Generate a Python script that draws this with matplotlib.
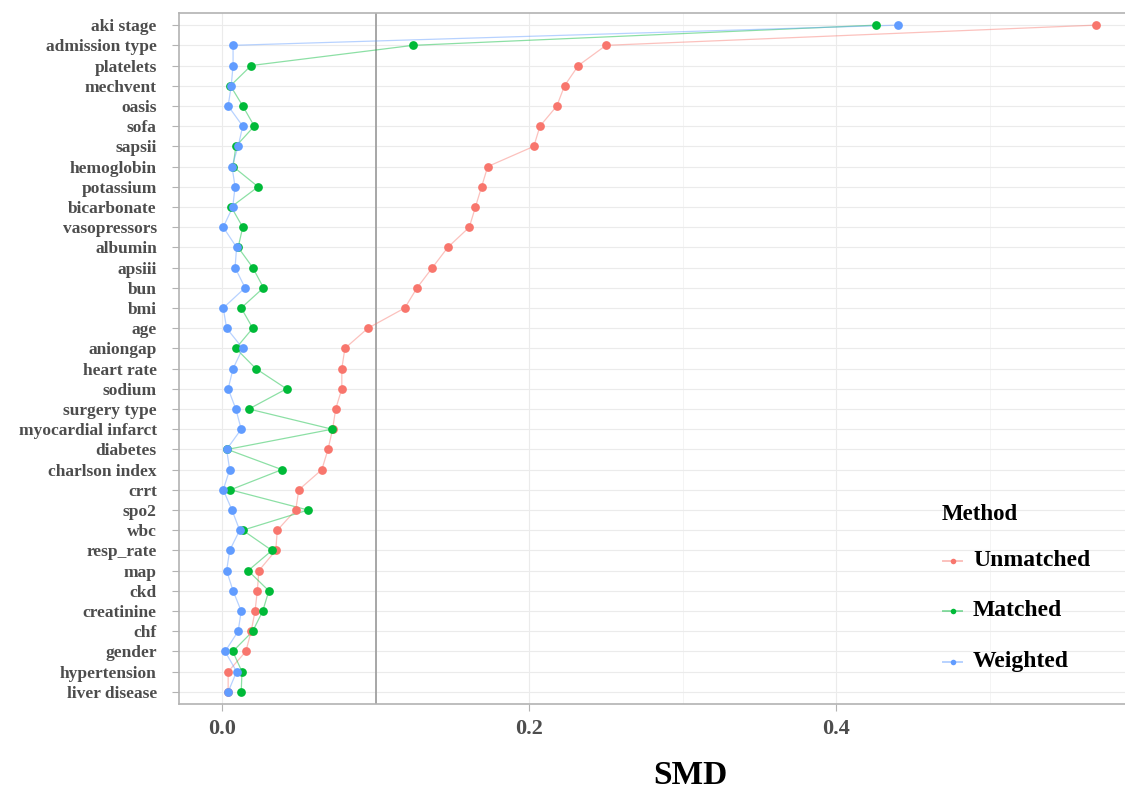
import matplotlib
matplotlib.use("Agg")
import matplotlib.pyplot as plt
from matplotlib.lines import Line2D
from matplotlib.ticker import MultipleLocator

variables = ["aki stage", "admission type", "platelets", "mechvent", "oasis", "sofa",
             "sapsii", "hemoglobin", "potassium", "bicarbonate", "vasopressors",
             "albumin", "apsiii", "bun", "bmi", "age", "aniongap", "heart rate",
             "sodium", "surgery type", "myocardial infarct", "diabetes",
             "charlson index", "crrt", "spo2", "wbc", "resp_rate", "map", "ckd",
             "creatinine", "chf", "gender", "hypertension", "liver disease"]

unmatched = [0.569, 0.250, 0.232, 0.223, 0.218, 0.207, 0.203, 0.173, 0.169, 0.165,
             0.161, 0.147, 0.137, 0.127, 0.119, 0.095, 0.080, 0.078, 0.078, 0.074,
             0.072, 0.069, 0.065, 0.050, 0.048, 0.036, 0.035, 0.024, 0.023, 0.0215,
             0.019, 0.0155, 0.004, 0.004]

matched = [0.426, 0.1245, 0.019, 0.0055, 0.0135, 0.021, 0.009, 0.0072, 0.0235, 0.006,
           0.0135, 0.0105, 0.020, 0.027, 0.0125, 0.020, 0.009, 0.022, 0.042, 0.0175,
           0.0717, 0.0035, 0.039, 0.0055, 0.056, 0.0135, 0.0325, 0.017, 0.0305, 0.0265,
           0.020, 0.007, 0.013, 0.0125]

weighted = [0.440, 0.0072, 0.0072, 0.006, 0.004, 0.0135, 0.0105, 0.0065, 0.0085, 0.007,
            0.0008, 0.0095, 0.0085, 0.015, 0.0008, 0.003, 0.0135, 0.0072, 0.004, 0.009,
            0.0125, 0.003, 0.005, 0.0008, 0.0065, 0.0115, 0.005, 0.003, 0.0072, 0.0125,
            0.0105, 0.002, 0.0095, 0.004]

methods = ["Unmatched", "Matched", "Weighted"]
colors = ["#F8766D", "#00BA38", "#619CFF"]
threshold = 0.1
x_ticks = [0.0, 0.2, 0.4]

serif = ["Liberation Serif", "DejaVu Serif"]

fig = plt.figure(figsize=(11.25, 7.95), dpi=100)
W, H = 1125, 795
left_px, right_px, top_px, bot_px = 179, 1139, 13, 704
ax = fig.add_axes([left_px / W, 1 - bot_px / H, (right_px - left_px) / W, (bot_px - top_px) / H])

n = len(variables)
ypos = list(range(n))[::-1]

for vals, col in zip([unmatched, matched, weighted], colors):
    ax.plot(vals, ypos, color=col, alpha=0.45, lw=0.9, zorder=2)
for vals, col in zip([unmatched, matched, weighted], colors):
    ax.plot(vals, ypos, linestyle="none", marker="o", markersize=6.3,
            color=col, markeredgewidth=0, zorder=3)

ax.axvline(threshold, color="#A0A0A0", lw=1.3, zorder=1)

ax.set_xlim(-0.028, 0.597)
ax.set_ylim(-0.6, n - 1 + 0.6)
ax.set_yticks(ypos)
ax.set_yticklabels(variables)
ax.set_xticks(x_ticks)
ax.set_xticklabels([f"{t:.1f}" for t in x_ticks])
ax.xaxis.set_minor_locator(MultipleLocator(0.1))

ax.grid(True, which="major", color="#EBEBEB", lw=0.8, zorder=0)
ax.grid(True, which="minor", axis="x", color="#F2F2F2", lw=0.6, zorder=0)
ax.set_axisbelow(True)

for side in ["left", "top", "bottom"]:
    ax.spines[side].set_color("#B3B3B3")
    ax.spines[side].set_linewidth(1.2)
ax.spines["right"].set_visible(False)

ax.tick_params(axis="both", which="major", length=5, color="#B3B3B3", width=0.8)
ax.tick_params(axis="x", which="minor", length=0)
ax.tick_params(axis="y", pad=11)
ax.tick_params(axis="x", pad=6)
for lab in ax.get_yticklabels():
    lab.set_fontfamily(serif)
    lab.set_fontweight("bold")
    lab.set_fontsize(12.5)
    lab.set_color("#4D4D4D")
for lab in ax.get_xticklabels():
    lab.set_fontfamily(serif)
    lab.set_fontweight("bold")
    lab.set_fontsize(16)
    lab.set_color("#4D4D4D")

fig.text(690 / W, 1 - 775 / H, "SMD", ha="center", va="center",
         fontfamily=serif, fontweight="bold", fontsize=24, color="black")

# legend drawn manually in figure pixel coordinates
fig.text(942 / W, 1 - 515 / H, "Method", ha="left", va="center",
         fontfamily=serif, fontweight="bold", fontsize=16.5, color="black")
entry_y = [561, 611, 662]
for name, col, yy in zip(methods, colors, entry_y):
    yf = 1 - yy / H
    fig.add_artist(Line2D([943 / W, 962 / W], [yf, yf], color=col, alpha=0.45, lw=1.4,
                          transform=fig.transFigure))
    fig.add_artist(Line2D([953 / W], [yf], color=col, marker="o", markersize=4,
                          markeredgewidth=0, linestyle="none", transform=fig.transFigure))
    fig.text(973 / W, yf, name, ha="left", va="center",
             fontfamily=serif, fontweight="bold", fontsize=17, color="black")

fig.savefig("out.png", dpi=100, facecolor="white")
